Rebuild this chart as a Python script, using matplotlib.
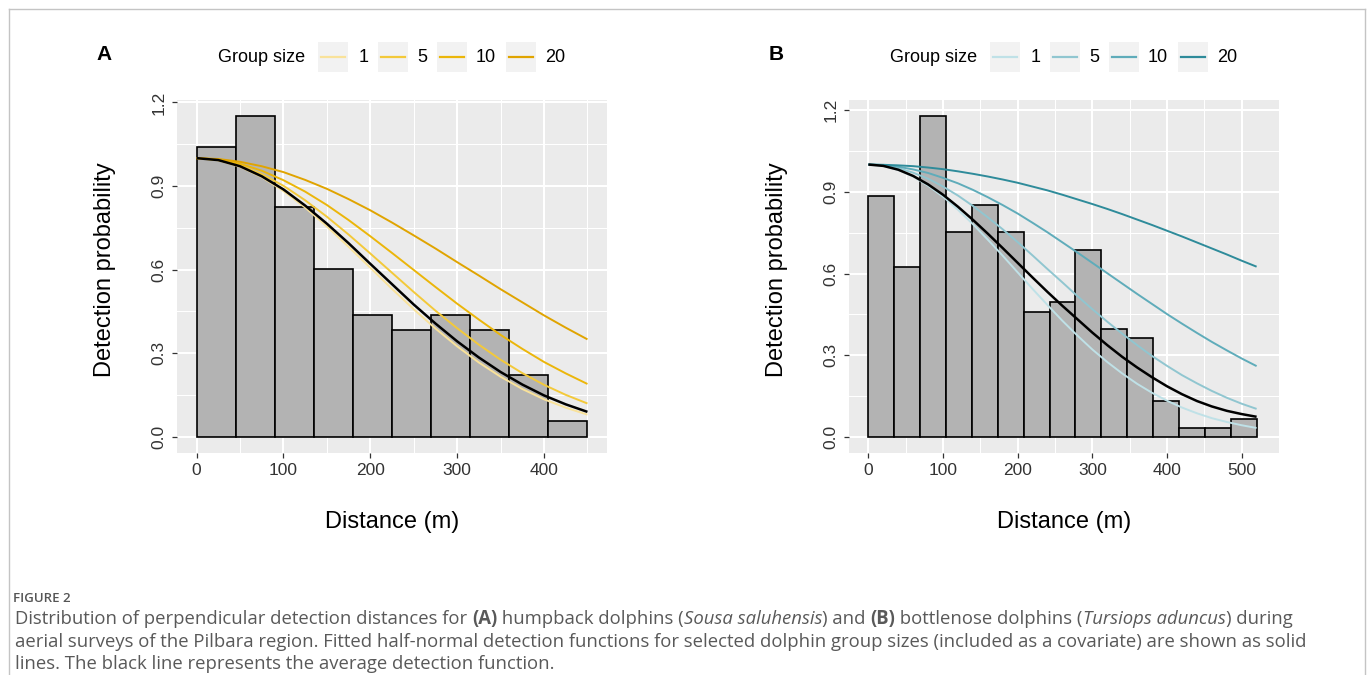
import numpy as np
import matplotlib
matplotlib.use("Agg")
import matplotlib.pyplot as plt
from matplotlib.patches import Rectangle
from matplotlib.lines import Line2D

plt.rcParams['font.family'] = ['Liberation Sans', 'DejaVu Sans']

# ---- data ----
group_sizes = ['1', '5', '10', '20']

# panel A: humpback dolphins
a_max_dist = 450
a_heights = [1.041, 1.151, 0.824, 0.603, 0.438, 0.384, 0.438, 0.384, 0.221, 0.056]
a_dist = [0, 25, 50, 75, 100, 125, 150, 175, 200, 225, 250, 275, 300, 325, 350, 375, 400, 425, 450]
a_g1 = [1.0, 0.992, 0.969, 0.932, 0.882, 0.823, 0.755, 0.682, 0.607, 0.531, 0.458, 0.389, 0.325, 0.267, 0.216, 0.172, 0.135, 0.105, 0.080]
a_g5 = [1.0, 0.993, 0.974, 0.943, 0.901, 0.849, 0.790, 0.726, 0.658, 0.589, 0.520, 0.453, 0.390, 0.331, 0.277, 0.229, 0.187, 0.151, 0.120]
a_g10 = [1.0, 0.995, 0.980, 0.955, 0.921, 0.880, 0.832, 0.778, 0.720, 0.660, 0.599, 0.538, 0.478, 0.421, 0.366, 0.316, 0.269, 0.228, 0.190]
a_g20 = [1.0, 0.997, 0.987, 0.971, 0.950, 0.922, 0.890, 0.853, 0.813, 0.769, 0.723, 0.676, 0.627, 0.579, 0.530, 0.483, 0.436, 0.392, 0.350]
a_avg = [1.0, 0.993, 0.971, 0.935, 0.888, 0.830, 0.765, 0.695, 0.621, 0.548, 0.475, 0.407, 0.343, 0.285, 0.233, 0.188, 0.149, 0.117, 0.090]
a_colors = ['#F9E29A', '#F3C93A', '#EBB60A', '#E0A400']

# panel B: bottlenose dolphins
b_max_dist = 520
b_heights = [0.885, 0.623, 1.178, 0.754, 0.852, 0.754, 0.458, 0.494, 0.687,
             0.396, 0.363, 0.133, 0.033, 0.033, 0.066]
b_dist = [0, 20, 40, 60, 80, 100, 120, 140, 160, 180, 200, 220, 240, 260, 280,
          300, 320, 340, 360, 380, 400, 420, 440, 460, 480, 500, 520]
b_g1 = [1.0, 0.995, 0.980, 0.956, 0.922, 0.882, 0.834, 0.781, 0.724, 0.665, 0.604, 0.543, 0.484, 0.426,
        0.372, 0.321, 0.275, 0.233, 0.195, 0.162, 0.133, 0.108, 0.087, 0.069, 0.055, 0.043, 0.033]
b_g5 = [1.0, 0.997, 0.987, 0.970, 0.948, 0.919, 0.886, 0.848, 0.806, 0.762, 0.715, 0.666, 0.616, 0.567,
        0.517, 0.469, 0.423, 0.379, 0.337, 0.297, 0.261, 0.227, 0.197, 0.169, 0.144, 0.122, 0.103]
b_g10 = [1.0, 0.998, 0.992, 0.982, 0.969, 0.951, 0.931, 0.907, 0.880, 0.851, 0.820, 0.786, 0.751, 0.714,
         0.677, 0.639, 0.601, 0.563, 0.525, 0.488, 0.451, 0.416, 0.382, 0.349, 0.318, 0.288, 0.260]
b_g20 = [1.0, 0.999, 0.997, 0.994, 0.989, 0.983, 0.975, 0.966, 0.956, 0.945, 0.933, 0.919, 0.905, 0.889,
         0.872, 0.855, 0.837, 0.818, 0.798, 0.778, 0.757, 0.736, 0.714, 0.692, 0.670, 0.647, 0.625]
b_avg = [1.0, 0.995, 0.981, 0.958, 0.927, 0.889, 0.845, 0.797, 0.746, 0.693, 0.639, 0.585, 0.532, 0.481,
         0.432, 0.383, 0.337, 0.294, 0.255, 0.219, 0.186, 0.157, 0.132, 0.112, 0.096, 0.084, 0.074]
b_colors = ['#BFE1E7', '#90C6D0', '#5FACBA', '#2E8B9A']

y_ticks = [0.0, 0.3, 0.6, 0.9, 1.2]
y_tick_labels = ['0.0', '0.3', '0.6', '0.9', '1.2']

W, H = 1372, 675
fig = plt.figure(figsize=(W / 100, H / 100), dpi=100)
fig.patch.set_facecolor('white')


def fx(x):
    return x / W


def fy(y):
    return 1 - y / H


def px_rect(l, t, r, b):
    return [l / W, 1 - b / H, (r - l) / W, (b - t) / H]


# light frame round the figure
for (x0, y0, x1, y1) in [(8.5, 8.5, 8.5, H), (8.5, 8.5, 1364.5, 8.5), (1364.5, 8.5, 1364.5, H)]:
    fig.add_artist(Line2D([fx(x0), fx(x1)], [fy(y0), fy(y1)], color='#C4C4C4', lw=1.0))


def draw_panel(ax, max_dist, heights, dist, curves, avg, colors, xticks):
    edges = np.linspace(0, max_dist, len(heights) + 1)
    ax.set_facecolor('#EBEBEB')
    ax.bar(edges[:-1], heights, width=np.diff(edges), align='edge',
           color='#B3B3B3', edgecolor='black', linewidth=1.2, zorder=2)
    for c, col in zip(curves, colors):
        ax.plot(dist, c, color=col, lw=1.4, zorder=3, solid_capstyle='butt')
    ax.plot(dist, avg, color='black', lw=1.8, zorder=4, solid_capstyle='butt')

    pad_x = 0.05 * max_dist
    top = max(heights)
    ax.set_xlim(-pad_x, max_dist + pad_x)
    ax.set_ylim(-0.05 * top, top * 1.05)

    ax.set_xticks(xticks)
    ax.set_xticklabels([str(t) for t in xticks])
    ax.set_xticks([t + 50 for t in xticks], minor=True)
    ax.set_yticks(y_ticks)
    ax.set_yticklabels(y_tick_labels)
    ax.set_yticks([t + 0.15 for t in y_ticks[:-1]], minor=True)

    ax.grid(which='major', color='white', lw=1.5)
    ax.grid(which='minor', color='white', lw=0.75)
    ax.set_axisbelow(True)
    for s in ax.spines.values():
        s.set_visible(False)
    ax.tick_params(which='major', length=3.3, width=0.9, color='#333333',
                   labelsize=12.5, labelcolor='#333333', pad=4)
    ax.tick_params(which='minor', length=0)
    for lab in ax.get_yticklabels():
        lab.set_rotation(90)
        lab.set_va('center')


axA = fig.add_axes(px_rect(177, 100, 607, 453))
axB = fig.add_axes(px_rect(849, 100, 1279, 453))

draw_panel(axA, a_max_dist, a_heights, a_dist, [a_g1, a_g5, a_g10, a_g20], a_avg,
           a_colors, [0, 100, 200, 300, 400])
draw_panel(axB, b_max_dist, b_heights, b_dist, [b_g1, b_g5, b_g10, b_g20], b_avg,
           b_colors, [0, 100, 200, 300, 400, 500])

# labels, panel letters and legends (B is A shifted by 672 px)
for off, letter, colors in [(0, 'A', a_colors), (672, 'B', b_colors)]:
    fig.text(fx(104 + off), fy(55), letter, fontsize=15, fontweight='bold',
             ha='center', va='center')
    fig.text(fx(105 + off), fy(270), 'Detection probability', fontsize=17,
             rotation=90, ha='center', va='center')
    fig.text(fx(392 + off), fy(522), 'Distance (m)', fontsize=17,
             ha='center', va='center')
    fig.text(fx(218 + off), fy(57), 'Group size', fontsize=13, ha='left', va='center')
    key_left = [318, 378, 437, 506]
    lab_left = [359, 417, 476, 545]
    for kl, ll, col, name in zip(key_left, lab_left, colors, group_sizes):
        fig.add_artist(Rectangle((fx(kl + off), fy(72)), 30 / W, 30 / H,
                                 facecolor='#F2F2F2', edgecolor='none'))
        fig.add_artist(Line2D([fx(kl + off + 3), fx(kl + off + 27)], [fy(57), fy(57)],
                              color=col, lw=1.6))
        fig.text(fx(ll + off), fy(57), name, fontsize=13, ha='left', va='center')

# ---- caption ----
renderer = fig.canvas.get_renderer()
cap_color = '#595959'
cap_font = ['Open Sans', 'DejaVu Sans']


def seg_width(s, size, weight, style):
    t1 = fig.text(0, 0, 'X' + s + 'X', fontsize=size, fontweight=weight,
                  fontstyle=style, family=cap_font)
    t2 = fig.text(0, 0, 'XX', fontsize=size, fontweight=weight,
                  fontstyle=style, family=cap_font)
    w = t1.get_window_extent(renderer).width - t2.get_window_extent(renderer).width
    t1.remove()
    t2.remove()
    return w


def rich_line(x0, y, parts, size):
    x = x0
    for s, weight, style in parts:
        fig.text(fx(x), fy(y), s, fontsize=size, fontweight=weight, fontstyle=style,
                 family=cap_font, color=cap_color, ha='left', va='center')
        x += seg_width(s, size, weight, style)


N, B, I = 'normal', 'bold', 'italic'
line1 = [("Distribution of perpendicular detection distances for ", N, N), ("(A)", B, N),
         (" humpback dolphins (", N, N), ("Sousa saluhensis", N, I), (") and ", N, N),
         ("(B)", B, N), (" bottlenose dolphins (", N, N), ("Tursiops aduncus", N, I),
         (") during", N, N)]
line2 = [("aerial surveys of the Pilbara region. Fitted half-normal detection functions for "
          "selected dolphin group sizes (included as a covariate) are shown as solid", N, N)]
line3 = [("lines. The black line represents the average detection function.", N, N)]

# pick the caption size so the second line spans the same width as in the figure
w10 = seg_width(line2[0][0], 10, N, N)
cap_size = 10 * (1310 - 15) / w10

fig.text(fx(13), fy(598), 'FIGURE 2', fontsize=9.5, fontweight='semibold',
         family=cap_font, color='#555555', ha='left', va='center')
rich_line(15, 619, line1, cap_size)
rich_line(15, 642, line2, cap_size)
rich_line(15, 664, line3, cap_size)

fig.savefig('out.png', dpi=100, facecolor='white')
